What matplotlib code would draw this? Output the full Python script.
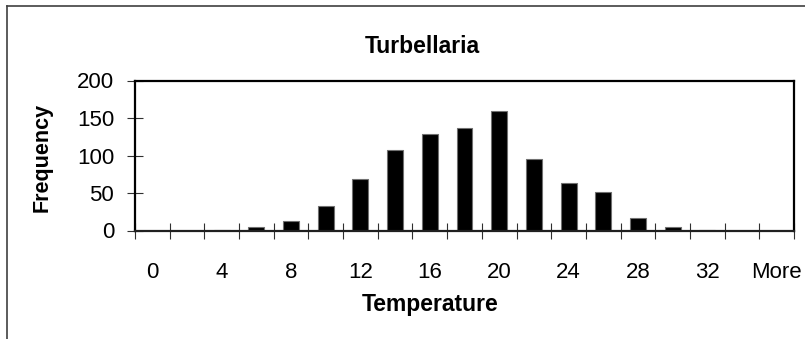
import numpy as np
import matplotlib
matplotlib.use("Agg")
import matplotlib.pyplot as plt
from matplotlib.lines import Line2D
from matplotlib.ticker import FixedLocator

# histogram bins (upper edge of each bin) and counts
bins = ['0', '2', '4', '6', '8', '10', '12', '14', '16', '18', '20',
        '22', '24', '26', '28', '30', '32', '34', 'More']
freq = [0, 0, 1, 5, 13, 33, 69, 108, 129, 137, 160,
        95, 64, 52, 17, 5, 1, 0, 0]
yticks = [0, 50, 100, 150, 200]

font = ['Liberation Sans', 'DejaVu Sans']

fig = plt.figure(figsize=(8.05, 3.39), dpi=100)
ax = fig.add_axes([135 / 805, 1 - 230.5 / 339, 659 / 805, 150 / 339])

x = np.arange(len(bins))
ax.bar(x, freq, width=0.46, color='black', edgecolor='#707070', linewidth=0.8, zorder=2)

ax.set_xlim(-0.5, len(bins) - 0.5)
ax.set_ylim(0, 200)

# ticks sit between the bins, labels on every other bin
ax.xaxis.set_major_locator(FixedLocator(np.arange(len(bins) + 1) - 0.5))
ax.xaxis.set_minor_locator(FixedLocator(x[::2]))
ax.set_xticklabels([], minor=False)
ax.set_xticklabels(bins[::2], minor=True, family=font, fontsize=16)
ax.tick_params(axis='x', which='major', direction='inout', length=12, width=0.8, color='#303030')
ax.tick_params(axis='x', which='minor', length=0, pad=23)

ax.set_yticks(yticks)
ax.set_yticklabels([str(v) for v in yticks], family=font, fontsize=16)
ax.tick_params(axis='y', direction='inout', length=12, width=0.8, color='#303030', pad=9)

for s in ax.spines.values():
    s.set_color('black')
    s.set_linewidth(1.6)
ax.spines['bottom'].set_color('#202020')

fig.text(422 / 805, 1 - 53 / 339, 'Turbellaria', family=font, fontsize=16.5,
         fontweight='bold', ha='center', va='baseline')
fig.text(430 / 805, 1 - 311 / 339, 'Temperature', family=font, fontsize=16.5,
         fontweight='bold', ha='center', va='baseline')
fig.text(42 / 805, 1 - 157 / 339, 'Frequency', family=font, fontsize=15.5,
         fontweight='bold', rotation=90, ha='center', va='center')

# chart area border, runs off the right and bottom
fig.add_artist(Line2D([6.5 / 805, 6.5 / 805], [1 - 6 / 339, -0.1], color='#404040', lw=1.2))
fig.add_artist(Line2D([6.5 / 805, 1.1], [1 - 6 / 339, 1 - 6 / 339], color='#404040', lw=1.2))

fig.savefig('out.png', dpi=100)
